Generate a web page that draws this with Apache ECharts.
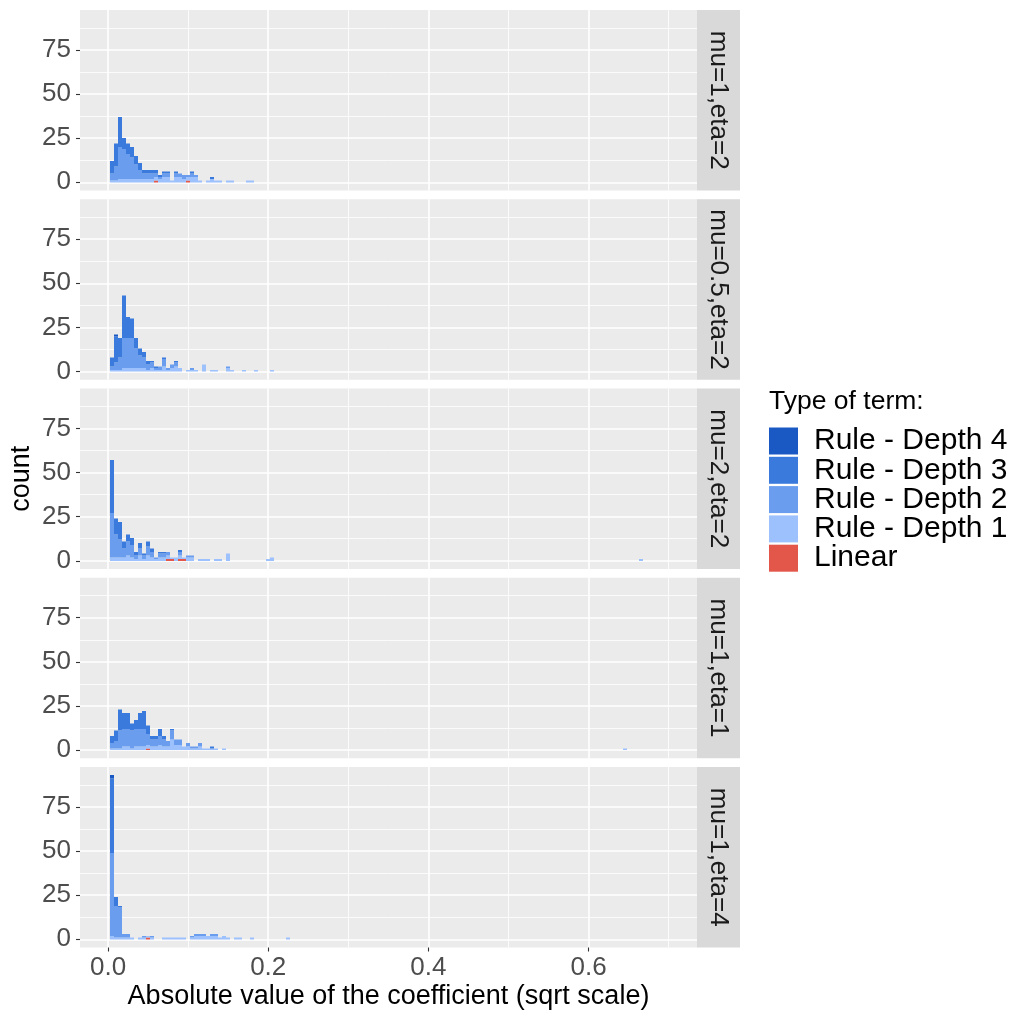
<!DOCTYPE html>
<html><head><meta charset="utf-8">
<script src="https://cdn.jsdelivr.net/npm/echarts@6/dist/echarts.min.js"></script>
<style>html,body{margin:0;padding:0;background:#fff}#chart{width:1017px;height:1010px}</style>
</head><body><div id="chart"></div>
<script>
// ---------------- data ----------------
const panelLabels = ['mu=1,eta=2', 'mu=0.5,eta=2', 'mu=2,eta=2', 'mu=1,eta=1', 'mu=1,eta=4'];
const termTypes = ['Rule - Depth 4', 'Rule - Depth 3', 'Rule - Depth 2', 'Rule - Depth 1', 'Linear'];
const termColors = ['#1a58c4', '#3a7adc', '#6a9dee', '#9dc1fd', '#e3574a'];
const xTickValues = [0, 0.2, 0.4, 0.6];
const xTickLabels = ['0.0', '0.2', '0.4', '0.6'];
const xMinorValues = [0.1, 0.3, 0.5, 0.7];
const yTickValues = [0, 25, 50, 75];
const yTickLabels = ['0', '25', '50', '75'];
const yMinorValues = [12.5, 37.5, 62.5, 87.5];
const BIN_WIDTH = 0.005;

// panel 1: mu=1,eta=2 (bin centres and counts per term type)
const p1_bins   = [0.005,0.010,0.015,0.020,0.025,0.030,0.035,0.040,0.045,0.050,0.055,0.060,0.065,0.070,0.075,0.080,0.085,0.090,0.095,0.100,0.105,0.110,0.115,0.125,0.130,0.135,0.140,0.150,0.155,0.175,0.180];
const p1_depth4 = [0,0,0,0,0,0,0,0,0,0,0,0,0,0,0,0,0,0,0,0,0,0,0,0,0,0,0,0,0,0,0];
const p1_depth3 = [7,13,17,6,6,6,5,4,2,2,2,2,1,1,1,0,1,0,0,0,1,0,0,0,1,0,0,0,0,0,0];
const p1_depth2 = [4,8,18,17,14,12,8,5,3,3,3,2,1,2,2,0,2,2,2,1,2,1,0,0,0,0,0,0,0,0,0];
const p1_depth1 = [1,1,2,2,2,2,2,2,2,2,2,2,2,3,3,1,3,3,2,2,3,3,1,1,2,1,1,1,1,1,1];
const p1_linear = [0,0,0,0,0,0,0,0,0,0,0,1,0,0,0,0,0,0,0,1,0,0,0,0,0,0,0,0,0,0,0];

// panel 2: mu=0.5,eta=2
const p2_bins   = [0.005,0.010,0.015,0.020,0.025,0.030,0.035,0.040,0.045,0.050,0.055,0.060,0.065,0.070,0.075,0.080,0.085,0.090,0.100,0.105,0.110,0.120,0.130,0.135,0.150,0.155,0.170,0.185,0.205];
const p2_depth4 = [0,1,0,0,0,0,0,0,0,0,0,0,0,0,0,0,0,0,0,0,0,0,0,0,0,0,0,0,0];
const p2_depth3 = [5,15,11,24,12,11,6,4,3,2,1,1,0,1,0,0,1,0,0,0,0,0,0,0,0,0,0,0,0];
const p2_depth2 = [2,4,7,17,17,17,11,7,6,3,3,1,2,4,1,2,2,0,0,1,0,0,0,0,1,0,0,0,0];
const p2_depth1 = [1,1,1,2,2,2,2,2,2,1,2,1,1,3,1,2,3,2,1,1,1,4,1,1,2,1,1,1,1];
const p2_linear = [0,0,0,0,0,0,0,0,0,0,0,0,0,0,0,0,0,0,0,0,0,0,0,0,0,0,0,0,0];

// panel 3: mu=2,eta=2
const p3_bins   = [0.005,0.010,0.015,0.020,0.025,0.030,0.035,0.040,0.045,0.050,0.055,0.060,0.065,0.070,0.075,0.080,0.085,0.090,0.095,0.100,0.105,0.115,0.120,0.125,0.135,0.140,0.150,0.200,0.205,0.665];
const p3_depth4 = [0,0,0,0,0,0,0,0,0,0,0,0,0,0,0,0,0,0,0,0,0,0,0,0,0,0,0,0,0,0];
const p3_depth3 = [30,9,10,4,4,4,2,3,1,3,2,0,1,1,0,0,0,1,0,0,0,0,0,0,0,0,0,0,0,0];
const p3_depth2 = [25,13,10,5,8,7,2,4,2,5,3,1,2,2,2,0,0,2,0,1,1,0,0,0,0,0,0,0,0,0];
const p3_depth1 = [2,2,2,2,3,2,1,3,1,3,2,1,2,2,2,1,2,2,1,2,2,1,1,1,1,1,4,1,2,1];
const p3_linear = [0,0,0,0,0,0,0,0,0,0,0,0,0,0,1,1,0,1,1,0,0,0,0,0,0,0,0,0,0,0];

// panel 4: mu=1,eta=1
const p4_bins   = [0.005,0.010,0.015,0.020,0.025,0.030,0.035,0.040,0.045,0.050,0.055,0.060,0.065,0.070,0.075,0.080,0.085,0.090,0.095,0.100,0.105,0.110,0.115,0.120,0.125,0.130,0.135,0.145,0.645];
const p4_depth4 = [0,0,0,0,0,0,0,0,0,0,0,0,0,0,0,0,0,0,0,0,0,0,0,0,0,0,0,0,0];
const p4_depth3 = [4,6,12,9,9,4,5,9,10,5,2,2,4,2,0,1,0,0,0,0,0,0,0,0,0,1,0,0,0];
const p4_depth2 = [3,4,10,10,10,10,10,10,10,6,4,4,5,4,3,5,3,3,0,2,1,1,2,0,0,0,0,0,0];
const p4_depth1 = [1,1,1,2,2,1,2,2,2,2,2,2,3,2,2,6,3,3,2,2,1,1,2,1,1,1,1,1,1];
const p4_linear = [0,0,0,0,0,0,0,0,0,1,0,0,0,0,0,0,0,0,0,0,0,0,0,0,0,0,0,0,0];

// panel 5: mu=1,eta=4
const p5_bins   = [0.005,0.010,0.015,0.020,0.025,0.030,0.040,0.045,0.050,0.055,0.070,0.075,0.080,0.085,0.090,0.095,0.105,0.110,0.115,0.120,0.125,0.130,0.135,0.140,0.145,0.150,0.160,0.165,0.180,0.225];
const p5_depth4 = [2,0,0,0,0,0,0,0,0,0,0,0,0,0,0,0,0,0,0,0,0,0,0,0,0,0,0,0,0,0];
const p5_depth3 = [42,5,1,0,0,0,0,0,0,0,0,0,0,0,0,0,0,0,0,0,0,0,0,0,0,0,0,0,0,0];
const p5_depth2 = [47,18,17,2,2,0,0,1,0,1,0,0,0,0,0,0,1,1,1,1,0,1,1,0,0,0,0,0,0,0];
const p5_depth1 = [2,1,1,1,1,1,1,1,1,1,1,1,1,1,1,1,1,2,2,2,2,2,2,1,2,1,1,1,1,1];
const p5_linear = [0,0,0,0,0,0,0,0,1,0,0,0,0,0,0,0,0,0,0,0,0,0,0,0,0,0,0,0,0,0];

// ---------------- chart ----------------
const FONT = '"Liberation Sans", Arial, Helvetica, sans-serif';
const panels = [
  {bins: p1_bins, layers: [p1_linear, p1_depth1, p1_depth2, p1_depth3, p1_depth4]},
  {bins: p2_bins, layers: [p2_linear, p2_depth1, p2_depth2, p2_depth3, p2_depth4]},
  {bins: p3_bins, layers: [p3_linear, p3_depth1, p3_depth2, p3_depth3, p3_depth4]},
  {bins: p4_bins, layers: [p4_linear, p4_depth1, p4_depth2, p4_depth3, p4_depth4]},
  {bins: p5_bins, layers: [p5_linear, p5_depth1, p5_depth2, p5_depth3, p5_depth4]}
];
// stacking bottom -> top
const layerOrder = [4, 3, 2, 1, 0]; // indices into termTypes

const X_MIN = -0.035, X_MAX = 0.7353;
const Y_MIN = -4.65, Y_MAX = 97.65;
const GRID_LEFT = 80, GRID_W = 617, GRID_TOP0 = 10, GRID_H = 180.5, GRID_STEP = 189.25;
const STRIP_W = 43;

function renderBar(params, api) {
  const c = api.value(0), b = api.value(1), t = api.value(2);
  const p0 = api.coord([c - BIN_WIDTH / 2, b]);
  const p1 = api.coord([c + BIN_WIDTH / 2, t]);
  const x0 = Math.round(p0[0]), x1 = Math.round(p1[0]);
  const y0 = Math.round(p0[1] * 2) / 2, y1 = Math.round(p1[1] * 2) / 2;
  return {
    type: 'rect',
    shape: {x: x0, y: y1, width: x1 - x0, height: y0 - y1},
    style: {fill: api.visual('color')}
  };
}

const grids = [], xAxes = [], yAxes = [], series = [], graphics = [];
panels.forEach((pd, i) => {
  const top = GRID_TOP0 + i * GRID_STEP;
  const last = i === panels.length - 1;
  grids.push({left: GRID_LEFT, top: top, width: GRID_W, height: GRID_H, show: true,
    backgroundColor: '#ebebeb', borderWidth: 0, containLabel: false, outerBoundsMode: 'none'});
  // major x axis
  xAxes.push({
    type: 'value', gridIndex: i, min: X_MIN, max: X_MAX, position: 'bottom',
    axisLine: {show: false, onZero: false},
    axisTick: {show: last, customValues: xTickValues, length: 4, lineStyle: {color: '#333333', width: 1.1}},
    axisLabel: {show: last, customValues: xTickValues, margin: 7,
      formatter: v => xTickLabels[xTickValues.indexOf(v)] ?? v.toFixed(1),
      fontSize: 26, color: '#4d4d4d', fontFamily: FONT},
    splitLine: {show: true, lineStyle: {color: '#ffffff', width: 1.6}},
    name: last ? 'Absolute value of the coefficient (sqrt scale)' : '',
    nameLocation: 'middle', nameGap: 36, nameMoveOverlap: false,
    nameTextStyle: {fontSize: 27, color: '#000000', fontFamily: FONT}
  });
  // minor x axis
  xAxes.push({
    type: 'value', gridIndex: i, min: X_MIN, max: X_MAX, position: 'bottom',
    axisLine: {show: false, onZero: false}, axisLabel: {show: false},
    axisTick: {show: false, customValues: xMinorValues},
    splitLine: {show: true, lineStyle: {color: '#ffffff', width: 0.8}}
  });
  yAxes.push({
    type: 'value', gridIndex: i, min: Y_MIN, max: Y_MAX, position: 'left',
    axisLine: {show: false, onZero: false},
    axisTick: {show: true, customValues: yTickValues, length: 4, lineStyle: {color: '#333333', width: 1.1}},
    axisLabel: {show: true, customValues: yTickValues, margin: 9,
      formatter: v => yTickLabels[yTickValues.indexOf(v)] ?? String(v),
      fontSize: 26, color: '#4d4d4d', fontFamily: FONT},
    splitLine: {show: true, lineStyle: {color: '#ffffff', width: 1.6}}
  });
  yAxes.push({
    type: 'value', gridIndex: i, min: Y_MIN, max: Y_MAX, position: 'left',
    axisLine: {show: false, onZero: false}, axisLabel: {show: false},
    axisTick: {show: false, customValues: yMinorValues},
    splitLine: {show: true, lineStyle: {color: '#ffffff', width: 0.8}}
  });

  const base = pd.bins.map(() => 0);
  pd.layers.forEach((arr, li) => {
    const ti = layerOrder[li];
    const data = [];
    arr.forEach((v, j) => {
      if (v > 0) data.push([pd.bins[j], base[j], base[j] + v]);
      base[j] += v;
    });
    series.push({
      type: 'custom', name: termTypes[ti], xAxisIndex: 2 * i, yAxisIndex: 2 * i,
      renderItem: renderBar, data: data, encode: {x: 0, y: [1, 2]},
      itemStyle: {color: termColors[ti]}, clip: true, silent: true, animation: false
    });
  });

  // facet strip
  graphics.push({type: 'rect', left: GRID_LEFT + GRID_W, top: top,
    shape: {width: STRIP_W, height: GRID_H}, style: {fill: '#d9d9d9'}, silent: true});
  graphics.push({type: 'text', x: GRID_LEFT + GRID_W + STRIP_W / 2, y: top + GRID_H / 2,
    rotation: -Math.PI / 2,
    style: {text: panelLabels[i], fill: '#1a1a1a', font: '26px ' + FONT,
      textAlign: 'center', textVerticalAlign: 'middle'}, silent: true});
});

graphics.push({type: 'text', x: 22, y: GRID_TOP0 + (4 * GRID_STEP + GRID_H) / 2, rotation: Math.PI / 2,
  style: {text: 'count', fill: '#000000', font: '27px ' + FONT, textAlign: 'center', textVerticalAlign: 'middle'}, silent: true});
graphics.push({type: 'text', x: 769, y: 402,
  style: {text: 'Type of term:', fill: '#000000', font: '26.5px ' + FONT, textAlign: 'left', textVerticalAlign: 'middle'}, silent: true});

const chart = echarts.init(document.getElementById('chart'), null, {renderer: 'canvas'});
chart.setOption({
  animation: false,
  backgroundColor: '#ffffff',
  grid: grids, xAxis: xAxes, yAxis: yAxes, series: series,
  legend: {
    data: termTypes, orient: 'vertical', left: 769, top: 426, padding: 0,
    itemWidth: 29, itemHeight: 27, itemGap: -0.7, icon: 'rect', selectedMode: false,
    textStyle: {fontSize: 30, color: '#000000', fontFamily: FONT, padding: [0, 0, 0, 11]}
  },
  graphic: graphics
});
</script>
</body></html>
